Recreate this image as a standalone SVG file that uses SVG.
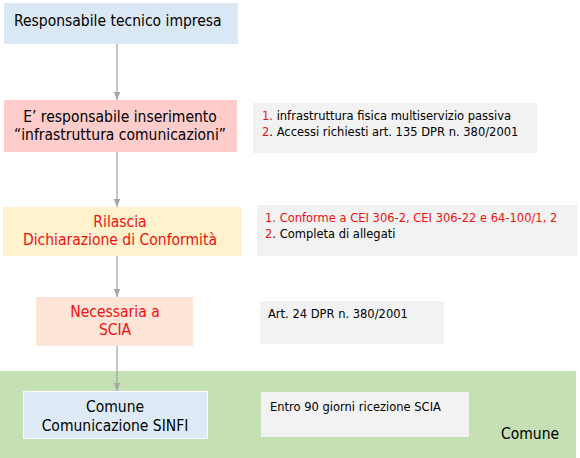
<svg xmlns="http://www.w3.org/2000/svg" width="580" height="458" viewBox="0 0 580 458">
<style>
.h{font-family:"DejaVu Sans Condensed","DejaVu Sans",sans-serif;font-size:15.5px;}
.s{font-family:"DejaVu Sans",sans-serif;font-size:11.5px;fill:#000;}
.r{fill:#ee1111;}
.info{fill:#f2f2f2;}
.conn{stroke:#a6a6a6;stroke-width:1.3;fill:none;marker-end:url(#ah);}
</style>
<defs>
<marker id="ah" viewBox="0 0 10 10" refX="10" refY="5" markerWidth="8" markerHeight="8" markerUnits="userSpaceOnUse" orient="auto">
<path d="M0,1 L10,5 L0,9 z" fill="#a6a6a6"/>
</marker>
</defs>
<rect id="comune-band" x="0" y="371" width="576" height="87" fill="#c5e0b4"/>
<g id="connectors">
<line class="conn" x1="117" y1="44" x2="117" y2="100"/>
<line class="conn" x1="117" y1="152" x2="117" y2="207"/>
<line class="conn" x1="117" y1="256" x2="117" y2="297"/>
<line class="conn" x1="117" y1="346" x2="117" y2="391"/>
</g>
<g id="n1">
<rect x="4" y="3" width="234" height="41" fill="#dae8f5"/>
<text class="h" x="14" y="26">Responsabile tecnico impresa</text>
</g>
<g id="n2">
<rect x="4" y="100" width="233" height="52" fill="#ffcccc"/>
<text class="h" x="120" y="122" text-anchor="middle">E’ responsabile inserimento</text>
<text class="h" x="120" y="140" text-anchor="middle">“infrastruttura comunicazioni”</text>
</g>
<g id="i2">
<rect class="info" x="253" y="103" width="284" height="50"/>
<text class="s" x="262" y="120"><tspan class="r">1.</tspan> infrastruttura fisica multiservizio passiva</text>
<text class="s" x="262" y="136"><tspan class="r">2</tspan>. Accessi richiesti art. 135 DPR n. 380/2001</text>
</g>
<g id="n3">
<rect x="3" y="207" width="238" height="49" fill="#fff2cc"/>
<text class="h r" x="120" y="227" text-anchor="middle">Rilascia</text>
<text class="h r" x="120" y="245" text-anchor="middle">Dichiarazione di Conformità</text>
</g>
<g id="i3">
<rect class="info" x="257" y="205" width="320" height="51"/>
<text class="s r" x="265" y="222">1. Conforme a CEI 306-2, CEI 306-22 e 64-100/1, 2</text>
<text class="s" x="265" y="238"><tspan class="r">2</tspan>. Completa di allegati</text>
</g>
<g id="n4">
<rect x="36" y="297" width="157" height="49" fill="#fce4d6"/>
<text class="h r" x="115" y="317" text-anchor="middle">Necessaria a</text>
<text class="h r" x="115" y="335" text-anchor="middle">SCIA</text>
</g>
<g id="i4">
<rect class="info" x="260" y="301" width="184" height="43"/>
<text class="s" x="268" y="318">Art. 24 DPR n. 380/2001</text>
</g>
<g id="n5">
<rect x="23.5" y="391.5" width="184" height="47" fill="#deebf7" stroke="#ffffff" stroke-width="1"/>
<text class="h" x="115" y="412" text-anchor="middle">Comune</text>
<text class="h" x="115" y="431" text-anchor="middle">Comunicazione SINFI</text>
</g>
<g id="i5">
<rect class="info" x="261" y="392" width="208" height="45"/>
<text class="s" x="270" y="411">Entro 90 giorni ricezione SCIA</text>
</g>
<text class="h" x="501" y="439">Comune</text>
</svg>
